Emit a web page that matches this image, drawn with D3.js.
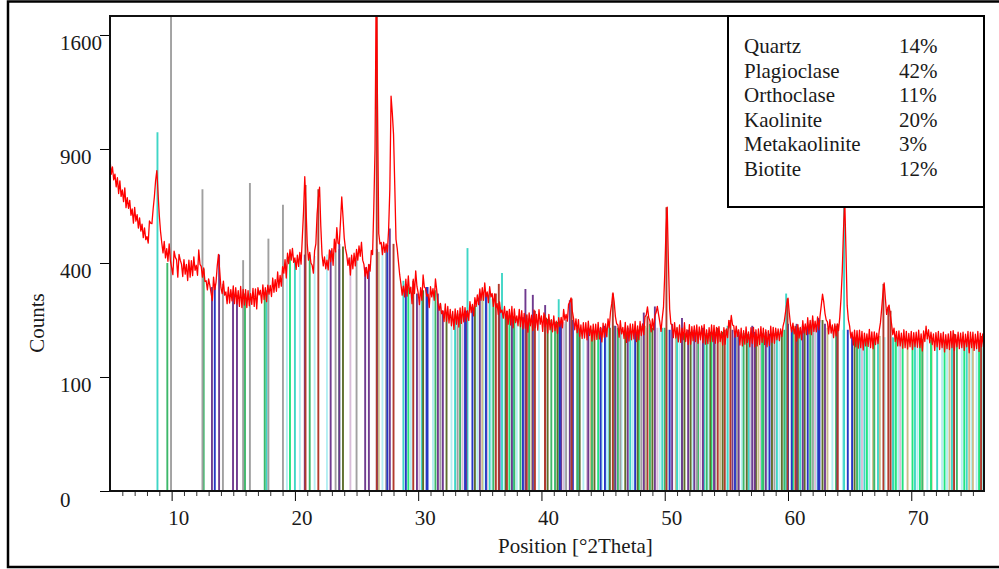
<!DOCTYPE html>
<html>
<head>
<meta charset="utf-8">
<script src="https://cdn.jsdelivr.net/npm/d3@7"></script>
<style>
body { margin: 0; background: #fff; }
svg { display: block; }
text { font-family: "Liberation Serif", "Times New Roman", serif; fill: #1a1a1a; }
</style>
</head>
<body>
<svg id="chart"></svg>
<script>
// measured scan: counts at 5.0, 5.2, 5.4 ... deg 2theta
const evenStart = 5.0;
const evenCounts = [
  847, 808, 773, 755, 740,  698, 707, 662, 650, 612,  619, 588, 574, 548, 533,
  498, 561, 550, 666, 790,  584, 474, 479, 452, 470,  384, 443, 412, 431, 396,
  412, 395, 410, 408, 422,  392, 447, 388, 383, 340,  346, 302, 352, 335, 431,
  318, 339, 305, 320, 312,  324, 318, 309, 322, 313,  312, 309, 300, 316, 314,
  318, 310, 327, 318, 326,  325, 349, 344, 369, 358,  387, 412, 435, 448, 453,
  418, 428, 438, 492, 760,  470, 438, 392, 445, 590,  710, 430, 422, 410, 447,
  452, 488, 534, 470, 665,  493, 430, 418, 428, 435,  449, 462, 476, 395, 385,
  395, 445, 620, 2000, 510, 475, 476, 470, 523, 1200, 980, 487, 404, 330, 323,
  345, 356, 320, 345, 373,  302, 318, 359, 316, 298,  321, 315, 346, 272, 271,
  250, 269, 262, 254, 248,  255, 250, 258, 262, 259,  250, 276, 268, 288, 296,
  314, 318, 333, 305, 321,  300, 299, 270, 275, 252,  262, 248, 254, 262, 255,
  236, 254, 250, 243, 236,  244, 238, 252, 240, 253,  236, 244, 230, 240, 226,
  236, 222, 231, 232, 254,  240, 268, 287, 230, 228,  226, 212, 218, 218, 222,
  210, 214, 214, 219, 206,  217, 215, 228, 246, 302,  234, 212, 223, 206, 219,
  210, 215, 214, 221, 210,  221, 215, 233, 261, 222,  228, 236, 262, 220, 230,
  360, 620, 255, 212, 218,  206, 212, 204, 218, 200,  213, 208, 210, 212, 207,
  210, 213, 200, 205, 212,  211, 206, 208, 196, 205,  202, 224, 237, 210, 209,
  200, 204, 198, 207, 195,  205, 206, 200, 202, 208,  204, 200, 198, 209, 206,
  204, 202, 202, 209, 246,  286, 214, 217, 206, 213,  206, 223, 215, 231, 224,
  236, 222, 233, 236, 298,  243, 220, 226, 212, 215,  215, 232, 370, 660, 265,
  209, 194, 199, 198, 199,  196, 192, 190, 201, 195,  195, 192, 198, 256, 333,
  240, 266, 215, 204, 196,  197, 192, 200, 196, 191,  196, 193, 194, 199, 190,
  197, 209, 200, 194, 190,  193, 196, 191, 194, 188,  190, 196, 198, 188, 194,
  192, 194, 189, 196, 194,  194, 189, 196, 192, 190,  190
];
// measured scan: counts at 5.1, 5.3, 5.5 ... deg 2theta
const oddStart = 5.1;
const oddCounts = [
  772, 745, 712, 681, 668,  644, 618, 615, 585, 552,  560, 532, 520, 494, 486,
  473, 552, 612, 742, 680,  518, 436, 418, 406, 408,  360, 420, 352, 410, 354,
  362, 341, 352, 357, 375,  358, 395, 352, 338, 311,  325, 279, 312, 390, 372,
  300, 295, 270, 272, 278,  270, 269, 262, 259, 266,  259, 264, 268, 262, 255,
  296, 272, 282, 276, 298,  291, 304, 307, 318, 323,  365, 349, 398, 410, 402,
  378, 388, 396, 600, 620,  410, 400, 365, 470, 660,  540, 390, 380, 376, 405,
  392, 440, 472, 560, 580,  452, 392, 359, 380, 390,  410, 424, 410, 355, 348,
  372, 430, 900, 1150, 470, 430, 438, 440, 700, 1100, 720, 452, 360, 295, 290,
  292, 300, 270, 300, 322,  267, 280, 320, 292, 259,  290, 280, 312, 251, 242,
  221, 222, 217, 210, 201,  214, 207, 216, 220, 222,  224, 245, 236, 262, 267,
  280, 280, 290, 273, 290,  262, 258, 240, 245, 230,  228, 214, 212, 205, 218,
  210, 208, 202, 204, 194,  210, 198, 205, 199, 214,  196, 208, 192, 200, 195,
  198, 191, 208, 205, 225,  222, 275, 250, 200, 193,  184, 179, 180, 176, 186,
  173, 176, 177, 178, 171,  182, 183, 205, 270, 275,  215, 182, 190, 179, 170,
  173, 176, 178, 172, 176,  186, 188, 238, 232, 195,  200, 245, 240, 196, 260,
  520, 400, 215, 181, 180,  171, 170, 176, 172, 165,  166, 174, 172, 168, 176,
  169, 166, 167, 172, 172,  168, 169, 172, 164, 166,  181, 205, 212, 182, 184,
  164, 162, 166, 170, 160,  168, 160, 162, 165, 170,  165, 160, 163, 170, 168,
  176, 174, 184, 222, 270,  245, 195, 190, 173, 180,  176, 192, 188, 190, 188,
  196, 195, 200, 265, 275,  225, 190, 192, 181, 185,  198, 285, 520, 450, 225,
  180, 164, 160, 157, 158,  153, 162, 161, 158, 156,  165, 167, 218, 300, 285,
  258, 238, 188, 172, 162,  162, 157, 158, 155, 160,  154, 160, 159, 158, 151,
  172, 178, 169, 165, 152,  160, 154, 158, 149, 156,  154, 158, 152, 160, 156,
  158, 152, 160, 147, 158,  152, 156, 150, 160, 155
];
const scanStep = 0.2;

// reference patterns: [position deg 2theta, stick height in counts]
const quartzSticks = [
  [20.86, 720], [21.9, 700], [26.64, 2000], [28.0, 470], [29.6, 340], [36.3, 300],
  [36.54, 330], [37.2, 250], [38.8, 240], [39.47, 250], [40.29, 240], [42.45, 285],
  [45.79, 300], [48.6, 235], [50.14, 620], [54.3, 205], [54.87, 200], [55.33, 225],
  [59.96, 285], [60.6, 210], [64.03, 215], [67.74, 330], [68.14, 260], [68.32, 250],
  [73.47, 190], [75.66, 185]
];
const plagioclaseSticks = [
  [13.27, 320], [13.85, 430], [14.98, 300], [15.3, 295], [20.8, 430], [22.9, 445],
  [23.6, 470], [25.7, 385], [26.0, 395], [27.7, 530], [29.9, 300], [31.6, 300],
  [32.0, 250], [33.9, 250], [35.0, 300], [37.6, 245], [38.7, 314], [39.3, 296],
  [40.3, 266], [41.6, 220], [42.3, 280], [43.8, 205], [46.0, 210], [47.0, 205],
  [48.3, 245], [49.2, 262], [50.6, 215], [51.4, 230], [51.9, 200], [52.4, 200],
  [53.1, 205], [54.0, 198], [55.5, 200], [56.0, 195], [57.1, 210], [57.3, 195],
  [58.2, 195], [60.7, 215], [61.2, 210], [63.0, 215], [64.0, 210]
];
const plagioclaseBSticks = [
  [19.35, 420], [20.4, 420], [21.6, 425], [22.6, 430], [27.1, 460], [29.4, 320],
  [31.2, 300], [32.7, 240], [33.0, 235], [34.8, 272], [35.3, 300], [36.0, 285],
  [37.0, 240], [38.0, 225], [39.8, 225], [41.9, 215], [43.4, 200], [44.9, 198],
  [45.3, 205], [46.5, 200], [47.4, 200], [48.55, 205], [49.6, 205], [50.25, 200],
  [51.2, 195], [52.3, 195], [53.5, 192], [55.1, 195], [56.25, 190], [57.0, 190],
  [58.35, 190], [59.3, 195], [60.95, 200], [62.35, 215], [63.6, 205], [64.45, 200],
  [65.95, 182], [66.6, 180], [67.85, 182], [68.95, 178], [70.5, 178], [71.3, 180],
  [72.5, 176], [72.9, 176], [74.1, 175], [74.9, 176], [75.3, 174]
];
const orthoclaseSticks = [
  [13.5, 330], [26.65, 450], [27.5, 465], [29.0, 330], [30.68, 320], [30.76, 320],
  [33.8, 248], [34.4, 260], [35.5, 300], [36.6, 260], [38.5, 232], [41.5, 215],
  [42.55, 225], [44.8, 205], [45.15, 210], [47.6, 200], [50.4, 200], [55.7, 192],
  [58.5, 190], [60.0, 215], [60.3, 205], [61.6, 210], [62.45, 230], [62.55, 225],
  [64.85, 200], [65.2, 185]
];
const orthoclaseBSticks = [
  [23.9, 460], [30.4, 310], [32.3, 245], [34.6, 265], [37.1, 240], [40.5, 228],
  [41.3, 220], [43.1, 200], [44.3, 198], [45.55, 205], [46.8, 198], [47.8, 200],
  [49.0, 205], [51.6, 192], [52.1, 195], [53.7, 195], [54.7, 195], [56.65, 190],
  [57.4, 190], [58.7, 190], [59.5, 195], [60.8, 205], [61.35, 205], [62.8, 225],
  [65.4, 182]
];
const kaoliniteSticks = [
  [9.65, 400], [12.6, 380], [15.95, 300], [17.55, 295], [21.2, 430], [23.6, 450],
  [31.4, 310], [33.4, 240], [36.1, 285], [37.8, 235], [38.3, 232], [39.0, 228],
  [40.8, 225], [41.1, 220], [42.9, 205], [44.1, 200], [45.9, 210], [46.2, 205],
  [48.8, 215], [50.0, 205], [51.4, 195], [52.7, 195], [53.4, 192], [56.4, 192],
  [58.0, 192], [59.7, 200], [61.8, 215], [63.9, 210], [65.6, 182], [67.0, 180],
  [70.9, 178], [73.7, 176]
];
const kaoliniteBSticks = [
  [19.6, 430], [29.2, 320], [37.4, 238], [44.6, 200], [47.9, 200], [53.8, 190],
  [57.9, 190], [60.4, 200], [62.0, 212], [66.4, 178], [68.55, 180], [68.75, 182],
  [69.3, 178], [70.1, 176], [70.7, 180], [71.6, 176], [72.7, 176], [74.3, 175],
  [75.5, 176]
];
const metakaoliniteSticks = [
  [9.95, 2000], [12.5, 700], [14.16, 330], [15.8, 410], [16.35, 730], [17.85, 490],
  [19.03, 630], [23.3, 445], [25.0, 425], [27.4, 460], [31.8, 270], [33.2, 242],
  [42.0, 225], [46.4, 202], [48.1, 210], [52.6, 196], [54.1, 195], [55.85, 200],
  [58.9, 192], [62.0, 225]
];
const metakaoliniteBSticks = [
  [24.5, 420], [30.1, 300], [33.6, 238], [35.6, 300], [38.9, 230], [41.8, 220],
  [43.7, 198], [49.4, 205], [52.9, 192], [56.9, 190], [57.8, 190], [62.2, 212],
  [66.0, 178], [69.1, 178]
];
const biotiteSticks = [
  [8.85, 990], [17.7, 310], [20.0, 410], [28.8, 340], [30.3, 310], [33.0, 240],
  [34.0, 454], [35.8, 300], [36.8, 366], [37.7, 235], [39.4, 250], [41.4, 283],
  [43.0, 205], [45.5, 215], [47.2, 200], [49.8, 205], [51.0, 205], [53.2, 192],
  [55.1, 210], [56.8, 190], [59.1, 195], [59.85, 300], [61.0, 205], [64.55, 700],
  [65.8, 180], [66.2, 178], [67.3, 182], [68.5, 182], [70.3, 178], [72.1, 176],
  [73.3, 178], [74.5, 176], [75.7, 175]
];
const biotiteBSticks = [
  [26.8, 440], [35.2, 295], [39.2, 230], [44.0, 200], [48.4, 210], [50.9, 192],
  [54.5, 192], [57.6, 190], [63.2, 205], [66.9, 180], [67.45, 185], [69.7, 178],
  [70.9, 176], [71.65, 176], [73.1, 175], [74.7, 176], [75.0, 176]
];

const phaseNames = ['Quartz', 'Plagioclase', 'Orthoclase', 'Kaolinite', 'Metakaolinite', 'Biotite'];
const phasePercents = ['14%', '42%', '11%', '20%', '3%', '12%'];

const yTicks = [0, 100, 400, 900, 1600];
const xTicks = [10, 20, 30, 40, 50, 60, 70];
const xMinorTicks = [6, 7, 8, 9, 11, 12, 13, 14, 15, 16, 17, 18, 19, 21, 22, 23, 24, 25, 26, 27, 28, 29,
  31, 32, 33, 34, 35, 36, 37, 38, 39, 41, 42, 43, 44, 45, 46, 47, 48, 49, 51, 52, 53, 54, 55, 56, 57, 58, 59,
  61, 62, 63, 64, 65, 66, 67, 68, 69, 71, 72, 73, 74, 75];

const width = 999;
const height = 569;
const plot = { left: 110, top: 16, right: 984, bottom: 491 };

const xScale = d3.scaleLinear()
                  .domain([5, 75.9])
                  .range([plot.left, plot.right]);
const yScale = d3.scaleSqrt()
                  .domain([0, 1736])
                  .range([plot.bottom, plot.top]);

const svg = d3.select('#chart')
              .attr('width', width)
              .attr('height', height);

svg.append('defs')
    .append('clipPath')
        .attr('id', 'plotClip')
    .append('rect')
        .attr('x', plot.left)
        .attr('y', plot.top)
        .attr('width', plot.right - plot.left)
        .attr('height', plot.bottom - plot.top);

// outer frame
svg.append('rect')
    .attr('x', 8)
    .attr('y', 1.5)
    .attr('width', 1000)
    .attr('height', 565.5)
    .attr('fill', 'none')
    .attr('stroke', '#000')
    .attr('stroke-width', 2.5);

const stickSets = [
  { sticks: plagioclaseBSticks, color: '#b4eef2' },
  { sticks: biotiteBSticks, color: '#cbbd8a' },
  { sticks: metakaoliniteBSticks, color: '#d8bcd8' },
  { sticks: kaoliniteBSticks, color: '#22e47e' },
  { sticks: biotiteSticks, color: '#3fd6c6' },
  { sticks: kaoliniteSticks, color: '#3db86a' },
  { sticks: orthoclaseBSticks, color: '#5e6f2c' },
  { sticks: metakaoliniteSticks, color: '#a0a0a0' },
  { sticks: plagioclaseSticks, color: '#6f3a8f' },
  { sticks: orthoclaseSticks, color: '#2636c4' },
  { sticks: quartzSticks, color: '#b23a2c' }
];

const plotG = svg.append('g').attr('clip-path', 'url(#plotClip)');

stickSets.forEach(set => {
    plotG.append('g')
        .selectAll('line')
        .data(set.sticks)
        .enter()
        .append('line')
            .attr('x1', d => xScale(d[0]))
            .attr('x2', d => xScale(d[0]))
            .attr('y1', yScale(0))
            .attr('y2', d => yScale(d[1]))
            .attr('stroke', set.color)
            .attr('stroke-width', 1.9);
});

const tracePoints = evenCounts.map((c, i) => [evenStart + i * scanStep, c])
    .concat(oddCounts.map((c, i) => [oddStart + i * scanStep, c]))
    .sort((a, b) => a[0] - b[0]);

plotG.append('path')
    .datum(tracePoints)
    .attr('d', d3.line()
        .x(d => xScale(d[0]))
        .y(d => yScale(d[1])))
    .attr('fill', 'none')
    .attr('stroke', '#ff0000')
    .attr('stroke-width', 1.3)
    .attr('stroke-linejoin', 'round');

// axes
const yAxis = d3.axisLeft(yScale)
                  .tickValues(yTicks)
                  .tickFormat(d3.format('d'))
                  .tickSize(10);
const yAxisG = svg.append('g')
    .attr('transform', `translate(${plot.left}, 0)`)
    .call(yAxis);
yAxisG.select('.domain').remove();
yAxisG.selectAll('.tick line').attr('stroke', '#000');
yAxisG.selectAll('.tick text')
    .attr('x', -50)
    .attr('y', 15)
    .attr('dy', '0')
    .style('text-anchor', 'start')
    .style('font-family', '"Liberation Serif", serif')
    .style('font-size', '21px');

const xAxis = d3.axisBottom(xScale)
                  .tickValues(xTicks)
                  .tickSize(10);
const xAxisG = svg.append('g')
    .attr('transform', `translate(0, ${plot.bottom})`)
    .call(xAxis);
xAxisG.select('.domain').remove();
xAxisG.selectAll('.tick line').attr('stroke', '#000');
xAxisG.selectAll('.tick text')
    .attr('x', -4)
    .attr('y', 34)
    .attr('dy', '0')
    .style('text-anchor', 'start')
    .style('font-family', '"Liberation Serif", serif')
    .style('font-size', '21px');

const xMinorAxis = d3.axisBottom(xScale)
                       .tickValues(xMinorTicks)
                       .tickSize(5)
                       .tickFormat('');
const xMinorG = svg.append('g')
    .attr('transform', `translate(0, ${plot.bottom})`)
    .call(xMinorAxis);
xMinorG.select('.domain').remove();
xMinorG.selectAll('.tick line').attr('stroke', '#333');

// plot frame
svg.append('rect')
    .attr('x', plot.left)
    .attr('y', plot.top)
    .attr('width', plot.right - plot.left)
    .attr('height', plot.bottom - plot.top)
    .attr('fill', 'none')
    .attr('stroke', '#111')
    .attr('stroke-width', 2);

svg.append('text')
    .attr('x', 498)
    .attr('y', 553)
    .style('font-size', '21px')
    .text('Position [°2Theta]');

svg.append('text')
    .attr('transform', 'translate(44, 323) rotate(-90)')
    .style('text-anchor', 'middle')
    .style('font-size', '21px')
    .text('Counts');

// phase box
svg.append('rect')
    .attr('x', 728)
    .attr('y', 16)
    .attr('width', 256)
    .attr('height', 191)
    .attr('fill', '#fff')
    .attr('stroke', '#000')
    .attr('stroke-width', 2);

const legendG = svg.append('g');
legendG.selectAll('text.name')
    .data(phaseNames)
    .enter()
    .append('text')
        .attr('class', 'name')
        .attr('x', 744)
        .attr('y', (d, i) => 53 + i * 24.5)
        .style('font-size', '21px')
        .text(d => d);
legendG.selectAll('text.pct')
    .data(phasePercents)
    .enter()
    .append('text')
        .attr('class', 'pct')
        .attr('x', 899)
        .attr('y', (d, i) => 53 + i * 24.5)
        .style('font-size', '21px')
        .text(d => d);
</script>
</body>
</html>
